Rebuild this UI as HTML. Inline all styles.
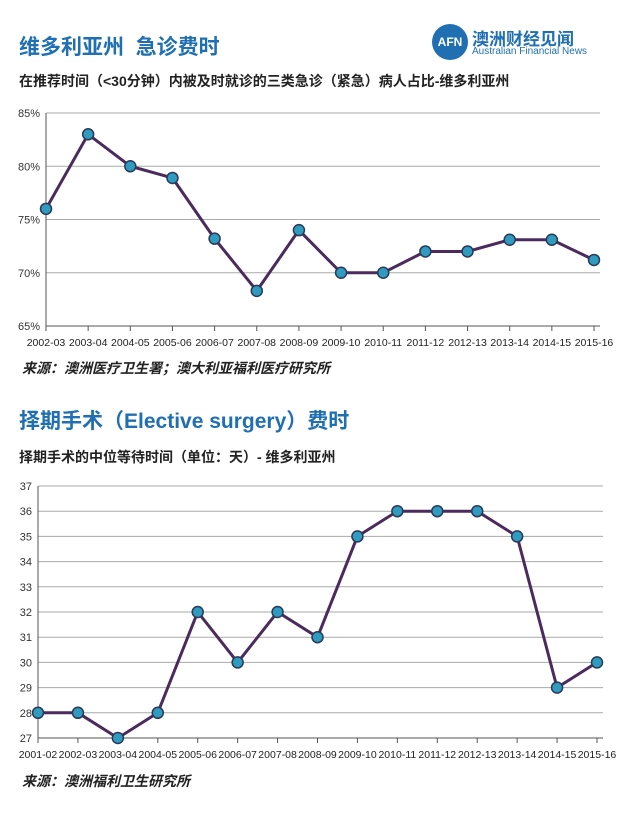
<!DOCTYPE html>
<html><head><meta charset="utf-8">
<style>
body{margin:0;width:640px;height:815px;background:#fff;font-family:"Liberation Sans","Noto Sans CJK SC",sans-serif;position:relative;overflow:hidden}
.t{position:absolute;white-space:nowrap}
.title{color:#1f6fb2;font-size:21px;font-weight:bold}
.sub{color:#222;font-size:14px;font-weight:bold}
.src{color:#222;font-size:14px;font-weight:bold;font-style:italic}
svg{position:absolute;left:0;top:0}
</style></head><body>
<div class="t title" style="left:19px;top:31px">维多利亚州&nbsp;&nbsp;急诊费时</div>
<div style="position:absolute;left:432px;top:24px;width:36px;height:36px;border-radius:50%;background:#1f6fb2;color:#fff;font-size:12px;font-weight:bold;text-align:center;line-height:36px">AFN</div>
<div class="t" style="left:472px;top:25px;color:#1f6fb2;font-size:17px;font-weight:bold">澳洲财经见闻</div>
<div class="t" style="left:472px;top:46px;color:#1f6fb2;font-size:10px">Australian Financial News</div>
<div class="t sub" style="left:19px;top:71px">在推荐时间（&lt;30分钟）内被及时就诊的三类急诊（紧急）病人占比-维多利亚州</div>
<div class="t src" style="left:22px;top:358px">来源：澳洲医疗卫生署；澳大利亚福利医疗研究所</div>
<div class="t title" style="left:19px;top:405px">择期手术（Elective surgery）费时</div>
<div class="t sub" style="left:19px;top:447px">择期手术的中位等待时间（单位：天）- 维多利亚州</div>
<div class="t src" style="left:22px;top:771px">来源：澳洲福利卫生研究所</div>
<svg id="s" width="640" height="815"></svg>
<script>
const cats1=["2002-03","2003-04","2004-05","2005-06","2006-07","2007-08","2008-09","2009-10","2010-11","2011-12","2012-13","2013-14","2014-15","2015-16"];
const vals1=[76,83,80,78.9,73.2,68.3,74,70,70,72,72,73.1,73.1,71.2];
const ticks1=[65,70,75,80,85];
const cats2=["2001-02","2002-03","2003-04","2004-05","2005-06","2006-07","2007-08","2008-09","2009-10","2010-11","2011-12","2012-13","2013-14","2014-15","2015-16"];
const vals2=[28,28,27,28,32,30,32,31,35,36,36,36,35,29,30];
const ticks2=[27,28,29,30,31,32,33,34,35,36,37];
const svg=document.getElementById('s');const NS="http://www.w3.org/2000/svg";
function mk(tag,a,name){const e=document.createElementNS(NS,tag);for(const k in a)e.setAttribute(k,a[k]);


svg.appendChild(e);return e;}
function chart(cats,vals,ticks,x0,x1,y0,y1,lo,hi,fmt,id,fs){
 const X=i=>x0+(x1-x0)*i/(cats.length-1);const Y=v=>y1-(y1-y0)*(v-lo)/(hi-lo);
 ticks.forEach(t=>{mk('line',{x1:x0,x2:x1+6,y1:Y(t),y2:Y(t),stroke:t==lo?'#555':'#aaa','stroke-width':1},id+'-gridline');
  const tx=mk('text',{x:x0-6,y:Y(t)+4,'text-anchor':'end','font-size':11,fill:'#333'},id+'-y-tick-label');tx.textContent=fmt(t);});
 mk('line',{x1:x0,x2:x0,y1:y0,y2:y1+5,stroke:'#555'},id+'-y-axis');
 cats.forEach((c,i)=>{mk('line',{x1:X(i),x2:X(i),y1:y1,y2:y1+5,stroke:'#555'},id+'-x-tick');
  const tx=mk('text',{x:X(i),y:y1+20,'text-anchor':'middle','font-size':fs,fill:'#222'},id+'-x-tick-label');tx.textContent=c;});
 mk('polyline',{points:vals.map((v,i)=>X(i)+','+Y(v)).join(' '),fill:'none',stroke:'#4b2a5e','stroke-width':3},id+'-line');
 vals.forEach((v,i)=>mk('circle',{cx:X(i),cy:Y(v),r:5.5,fill:'#2e9bbf',stroke:'#2a3a5a','stroke-width':1.5},id+'-point'));
}
chart(cats1,vals1,ticks1,46,594,113,326,65,85,t=>t+'%','ed',10.5);
chart(cats2,vals2,ticks2,38,597,486,738,27,37,t=>t,'es',10.5);
</script>
</body></html>
